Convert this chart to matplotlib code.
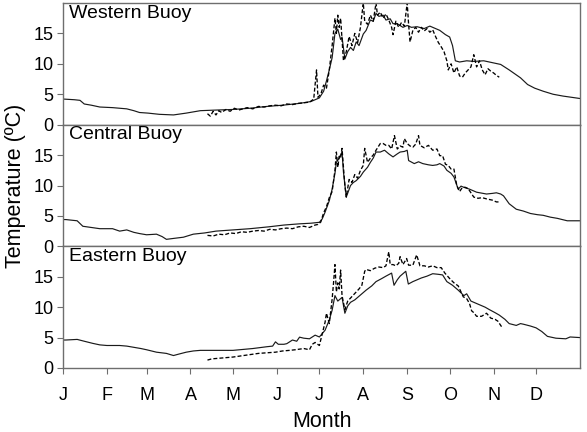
import matplotlib
matplotlib.use("Agg")
import matplotlib.pyplot as plt
import numpy as np

plt.rcParams['font.family'] = ['Liberation Sans', 'DejaVu Sans']

# ---------------- data (day of year, temperature degC) ----------------
month_starts = [0, 31, 59, 90, 120, 151, 181, 212, 243, 273, 304, 334]
month_labels = ['J', 'F', 'M', 'A', 'M', 'J', 'J', 'A', 'S', 'O', 'N', 'D']
panel_names = ['Western Buoy', 'Central Buoy', 'Eastern Buoy']

west_solid_day = [0, 1, 8, 12, 15, 20, 26, 35, 45, 50, 54, 60, 68, 78, 87, 97, 108, 120, 132, 144,
                  155, 167, 175, 181, 184, 186, 188, 190, 192, 194, 196, 197, 199, 201, 203, 205,
                  207, 209, 212, 214, 217, 219, 221, 223, 226, 228, 231, 233, 236, 240, 243, 246,
                  250, 255, 259, 263, 266, 270, 273, 275, 277, 280, 285, 290, 297, 303, 309, 315,
                  323, 328, 333, 339, 346, 353, 359, 365]
west_solid_val = [4.2, 4.2, 4.1, 4.0, 3.4, 3.2, 2.9, 2.8, 2.6, 2.3, 2.0, 1.9, 1.7, 1.6, 1.9, 2.3, 2.4,
                  2.5, 2.7, 3.0, 3.2, 3.5, 3.8, 4.4, 5.5, 7.2, 9.0, 11.0, 15.0, 15.7, 14.0, 14.4,
                  10.8, 12.0, 12.7, 12.2, 13.6, 13.0, 14.9, 15.5, 17.2, 17.0, 18.3, 17.8, 18.0,
                  17.2, 17.4, 16.6, 16.6, 16.0, 16.3, 16.0, 16.1, 15.8, 16.2, 15.8, 15.5, 14.8,
                  14.4, 13.0, 10.5, 10.3, 10.5, 10.4, 10.5, 10.2, 9.9, 9.0, 7.7, 6.6, 6.0, 5.5,
                  5.0, 4.7, 4.5, 4.3]
west_dash_day = [102, 104, 106, 108, 110, 112, 115, 118, 121, 124, 127, 130, 134, 138, 142, 146, 150,
                 154, 158, 162, 166, 170, 174, 177, 179, 180, 182, 184, 186, 188, 190, 192, 193,
                 194, 195, 196, 197, 198, 200, 202, 204, 206, 208, 210, 212, 213, 215, 217, 219,
                 221, 222, 224, 226, 228, 230, 232, 233, 235, 237, 239, 241, 243, 244, 245, 247,
                 249, 251, 253, 255, 257, 259, 261, 263, 265, 267, 269, 271, 272, 274, 276, 278,
                 280, 282, 284, 286, 288, 290, 292, 294, 296, 298, 300, 302, 304, 306, 308]
west_dash_val = [1.8, 1.4, 2.2, 1.6, 2.3, 2.0, 2.5, 2.2, 2.7, 2.4, 2.6, 2.8, 2.6, 3.0, 2.9, 3.1, 3.2,
                 3.1, 3.4, 3.3, 3.5, 3.6, 3.7, 4.2, 9.0, 4.5, 5.0, 6.5, 6.0, 9.0, 13.0, 17.5, 15.0,
                 18.0, 16.0, 17.5, 14.0, 10.5, 12.0, 14.5, 13.0, 15.0, 13.5, 16.0, 20.0, 17.0,
                 16.5, 18.0, 17.0, 20.0, 18.0, 18.5, 17.5, 18.2, 17.2, 16.0, 14.8, 17.0, 16.0,
                 16.8, 16.2, 20.0, 16.5, 13.6, 15.5, 16.0, 15.2, 16.0, 15.4, 15.8, 15.2, 15.6,
                 14.5, 13.5, 12.8, 12.0, 10.5, 9.0, 10.0, 8.5, 9.5, 8.0, 7.8, 8.5, 9.0, 9.5,
                 11.5, 9.5, 10.5, 9.0, 8.2, 9.2, 8.8, 8.5, 8.1, 7.8]

cent_solid_day = [0, 2, 10, 14, 20, 26, 35, 40, 45, 50, 54, 59, 66, 70, 73, 78, 85, 92, 100, 108,
                  120, 132, 145, 156, 167, 175, 181, 183, 185, 188, 190, 192, 193, 195, 197, 198,
                  200, 203, 205, 207, 210, 212, 215, 217, 219, 221, 224, 227, 230, 233, 236, 238,
                  241, 243, 244, 248, 251, 254, 258, 261, 264, 266, 269, 271, 274, 276, 279, 281,
                  283, 287, 292, 299, 303, 306, 309, 311, 315, 320, 325, 330, 335, 339, 344, 349,
                  356, 365]
cent_solid_val = [4.4, 4.4, 4.2, 3.3, 3.1, 2.9, 2.9, 2.5, 2.7, 2.3, 2.1, 1.9, 2.0, 1.6, 1.15, 1.3,
                  1.5, 2.0, 2.2, 2.5, 2.7, 2.9, 3.2, 3.5, 3.7, 3.8, 3.95, 4.5, 5.6, 7.5, 9.4, 12.0,
                  13.8, 14.5, 15.5, 12.2, 8.1, 10.0, 10.5, 10.8, 11.5, 12.2, 13.0, 13.8, 14.5,
                  15.5, 15.5, 15.8, 15.2, 14.7, 15.2, 15.5, 15.6, 15.8, 14.1, 13.6, 13.9, 13.6,
                  13.4, 13.3, 13.4, 13.6, 13.2, 12.5, 12.0, 11.4, 9.4, 9.9, 9.7, 9.4, 8.9, 8.6,
                  8.7, 8.8, 8.6, 8.3, 7.0, 6.1, 5.8, 5.4, 5.2, 5.1, 4.8, 4.6, 4.2, 4.2]
cent_dash_day = [102, 106, 110, 114, 118, 122, 126, 130, 134, 138, 142, 146, 150, 154, 158, 162,
                 166, 170, 174, 178, 180, 182, 184, 186, 188, 190, 192, 193, 194, 195, 196, 197,
                 198, 199, 200, 202, 204, 206, 208, 210, 212, 213, 215, 217, 219, 221, 224, 226,
                 228, 230, 232, 234, 236, 238, 240, 241, 243, 245, 247, 249, 251, 252, 255, 258,
                 261, 264, 266, 268, 270, 272, 274, 276, 278, 280, 282, 284, 286, 290, 293, 296,
                 299, 303, 306, 308]
cent_dash_val = [1.8, 1.7, 2.0, 1.9, 2.2, 2.1, 2.4, 2.3, 2.5, 2.6, 2.5, 2.8, 2.7, 2.9, 3.0, 2.9,
                 3.2, 3.3, 3.1, 3.5, 3.6, 4.0, 5.5, 6.5, 8.0, 9.0, 12.5, 15.5, 13.0, 14.8, 14.5,
                 16.1, 13.0, 10.0, 8.1, 11.0, 10.5, 11.8, 11.2, 12.5, 13.3, 16.1, 13.8, 14.5,
                 15.0, 15.8, 16.9, 16.9, 16.6, 16.6, 16.0, 18.2, 16.0, 16.5, 16.3, 17.7, 16.9,
                 16.5, 16.3, 16.8, 18.2, 16.6, 16.2, 16.6, 15.8, 16.0, 14.9, 14.9, 13.5, 13.3,
                 12.7, 12.7, 10.0, 9.0, 9.7, 9.7, 9.5, 8.1, 7.9, 8.0, 7.8, 7.6, 7.3, 7.3]

east_solid_day = [0, 2, 10, 15, 21, 26, 31, 40, 45, 50, 55, 59, 66, 73, 78, 82, 87, 92, 97, 110,
                  120, 134, 144, 148, 150, 152, 156, 158, 162, 165, 167, 170, 174, 178, 181, 185,
                  188, 190, 192, 194, 197, 199, 201, 203, 206, 208, 211, 214, 218, 221, 225, 228,
                  232, 233.7, 236, 238, 242, 243.8, 247, 250, 253, 257, 261, 265, 268, 271, 275,
                  279, 283, 285, 288, 291, 294, 298, 301, 305, 308, 312, 315, 320, 323, 325, 330,
                  334, 338, 342, 348, 355, 358, 365]
east_solid_val = [4.6, 4.6, 4.7, 4.4, 4.05, 3.8, 3.7, 3.7, 3.6, 3.4, 3.2, 3.0, 2.6, 2.4, 2.05, 2.3,
                  2.6, 2.8, 2.9, 2.9, 2.9, 3.2, 3.5, 3.6, 4.3, 3.9, 3.9, 4.0, 4.6, 4.4, 5.07, 4.9,
                  4.8, 5.4, 5.1, 6.2, 7.9, 9.5, 11.9, 11.0, 11.6, 9.0, 10.2, 10.8, 11.2, 11.6,
                  12.2, 12.8, 13.5, 14.2, 14.7, 15.1, 15.6, 13.6, 14.5, 15.1, 15.9, 13.8, 14.2,
                  14.5, 14.8, 15.1, 15.5, 15.4, 15.3, 14.2, 13.6, 12.8, 11.9, 12.2, 11.0, 10.7,
                  10.4, 10.0, 9.6, 9.1, 8.7, 8.0, 7.3, 7.0, 7.3, 7.2, 6.9, 6.6, 6.0, 5.2, 4.9,
                  4.8, 5.1, 5.0]
east_dash_day = [102, 105, 110, 115, 120, 126, 132, 138, 144, 150, 155, 160, 164, 167, 170, 174,
                 176, 178, 181, 183, 185, 186, 188, 190, 191, 192, 193, 194, 195, 196, 197, 199,
                 201, 203, 205, 207, 209, 211, 213, 214, 217, 220, 223, 226, 228, 230, 231, 233,
                 235, 237, 238, 240, 242.6, 244, 247, 249.7, 252, 255, 258, 261, 264, 267, 269.6,
                 273, 276, 279, 282.6, 285, 287, 288.5, 290, 292, 295.5, 299, 302, 305, 307, 309.6]
east_dash_val = [1.3, 1.5, 1.6, 1.7, 1.8, 2.0, 2.2, 2.4, 2.5, 2.6, 2.8, 2.9, 3.0, 3.1, 3.2, 3.0,
                 3.9, 4.2, 3.7, 5.6, 7.5, 9.0, 7.3, 11.3, 14.0, 17.0, 12.5, 14.0, 13.0, 16.1,
                 11.9, 9.6, 11.0, 11.5, 12.0, 12.5, 13.0, 13.6, 15.9, 16.2, 16.0, 16.4, 16.6,
                 16.5, 16.8, 19.1, 17.0, 17.0, 16.8, 17.2, 18.3, 17.0, 18.0, 16.9, 16.9, 18.6,
                 16.8, 16.8, 16.6, 16.8, 16.5, 16.5, 15.6, 14.7, 14.0, 13.5, 11.7, 11.4, 10.6,
                 9.4, 9.1, 8.5, 8.5, 9.0, 8.2, 8.0, 7.7, 6.8]

solid_days = [west_solid_day, cent_solid_day, east_solid_day]
solid_vals = [west_solid_val, cent_solid_val, east_solid_val]
dash_days = [west_dash_day, cent_dash_day, east_dash_day]
dash_vals = [west_dash_val, cent_dash_val, east_dash_val]

# ---------------- figure ----------------
fig = plt.figure(figsize=(5.87, 4.32), dpi=100)
left, right = 63 / 587, 580 / 587
top_px, bot_px = 3, 368
h = (bot_px - top_px) / 3 / 432
frame_col = '#6e6e6e'

axes = []
for i in range(3):
    bottom = 1 - (top_px / 432) - (i + 1) * h
    ax = fig.add_axes([left, bottom, right - left, h])
    axes.append(ax)
    ax.plot(solid_days[i], solid_vals[i], color='#1a1a1a', lw=0.85)
    ax.plot(dash_days[i], dash_vals[i], color='black', lw=0.95, ls=(0, (3, 1.6)))
    ax.set_xlim(0, 365)
    ax.set_ylim(0, 20)
    ax.set_yticks([0, 5, 10, 15])
    ax.tick_params(axis='y', direction='out', length=4, width=0.8, color=frame_col,
                   labelsize=13, pad=3)
    for sp in ax.spines.values():
        sp.set_color(frame_col)
        sp.set_linewidth(1.0)
    ax.text(0.011, 0.985, panel_names[i], transform=ax.transAxes, ha='left', va='top',
            fontsize=14)
    if i < 2:
        ax.set_xticks([])
    else:
        ax.set_xticks(month_starts)
        ax.set_xticklabels(month_labels)
        ax.tick_params(axis='x', direction='out', length=4, width=0.8, color=frame_col,
                       labelsize=13, pad=9.5)

fig.text(0.026, 1 - 185.5 / 432, 'Temperature (ºC)', rotation=90, ha='center', va='center',
         fontsize=15.5)
fig.text((left + right) / 2, 0.024, 'Month', ha='center', va='center', fontsize=15.5)

fig.savefig('out.png', dpi=100)
